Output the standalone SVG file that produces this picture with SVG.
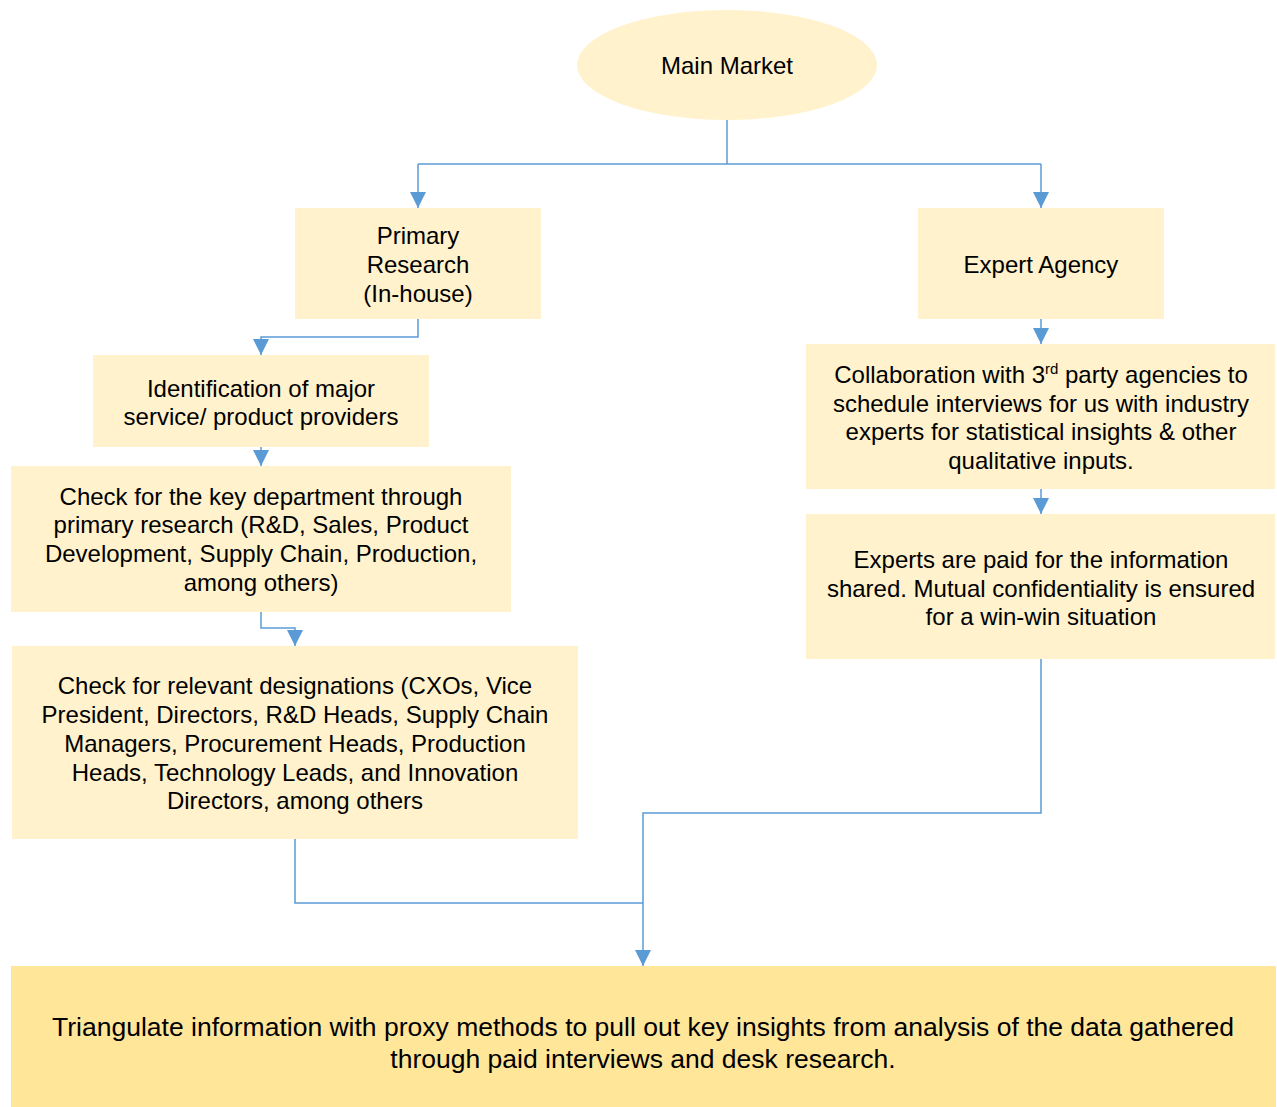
<svg xmlns="http://www.w3.org/2000/svg" width="1277" height="1107" viewBox="0 0 1277 1107">
<style>
.box{fill:#FFF2CC}
.final{fill:#FFE699}
text{font-family:"Liberation Sans",Arial,sans-serif;font-size:24px;fill:#000;text-anchor:middle}
.big{font-size:26.5px}
.conn{fill:none;stroke:#5B9BD5;stroke-width:1.5}
</style>
<defs>
<marker id="ah" markerUnits="userSpaceOnUse" markerWidth="16" markerHeight="17" viewBox="0 0 16 17" refX="16" refY="8" orient="auto">
<path d="M0,0 L16,8 L0,16 Z" fill="#5B9BD5"/>
</marker>
</defs>
<rect width="1277" height="1107" fill="#fff"/>
<g id="connectors">
<path class="conn" d="M727,120 V164"/>
<path class="conn" d="M418,164 H1041"/>
<path class="conn" d="M418,164 V208" marker-end="url(#ah)"/>
<path class="conn" d="M1041,164 V208" marker-end="url(#ah)"/>
<path class="conn" d="M418,319 V337 H261 V355" marker-end="url(#ah)"/>
<path class="conn" d="M261,447 V466" marker-end="url(#ah)"/>
<path class="conn" d="M261,612 V628 H295 V646" marker-end="url(#ah)"/>
<path class="conn" d="M1041,319 V344" marker-end="url(#ah)"/>
<path class="conn" d="M1041,489 V514" marker-end="url(#ah)"/>
<path class="conn" d="M1041,659 V813 H643 V966" marker-end="url(#ah)"/>
<path class="conn" d="M295,839 V903 H643"/>
</g>
<g id="main-market">
<ellipse class="box" cx="727" cy="65" rx="150" ry="55"/>
<text x="727" y="74">Main Market</text>
</g>
<g id="primary-research">
<rect class="box" x="295" y="208" width="246" height="111"/>
<text x="418" y="244">Primary</text>
<text x="418" y="273">Research</text>
<text x="418" y="302">(In-house)</text>
</g>
<g id="expert-agency">
<rect class="box" x="918" y="208" width="246" height="111"/>
<text x="1041" y="273">Expert Agency</text>
</g>
<g id="identification">
<rect class="box" x="93" y="355" width="336" height="92"/>
<text x="261" y="397">Identification of major</text>
<text x="261" y="425">service/ product providers</text>
</g>
<g id="key-department">
<rect class="box" x="11" y="466" width="500" height="146"/>
<text x="261" y="505">Check for the key department through</text>
<text x="261" y="533">primary research (R&amp;D, Sales, Product</text>
<text x="261" y="562">Development, Supply Chain, Production,</text>
<text x="261" y="591">among others)</text>
</g>
<g id="designations">
<rect class="box" x="12" y="646" width="566" height="193"/>
<text x="295" y="694">Check for relevant designations (CXOs, Vice</text>
<text x="295" y="723">President, Directors, R&amp;D Heads, Supply Chain</text>
<text x="295" y="752">Managers, Procurement Heads, Production</text>
<text x="295" y="781">Heads, Technology Leads, and Innovation</text>
<text x="295" y="809">Directors, among others</text>
</g>
<g id="collaboration">
<rect class="box" x="806" y="344" width="469" height="145"/>
<text x="1041" y="383">Collaboration with 3<tspan font-size="15" dy="-9">rd</tspan><tspan dy="9"> party agencies to</tspan></text>
<text x="1041" y="412">schedule interviews for us with industry</text>
<text x="1041" y="440">experts for statistical insights &amp; other</text>
<text x="1041" y="469">qualitative inputs.</text>
</g>
<g id="experts-paid">
<rect class="box" x="806" y="514" width="469" height="145"/>
<text x="1041" y="568">Experts are paid for the information</text>
<text x="1041" y="597">shared. Mutual confidentiality is ensured</text>
<text x="1041" y="625">for a win-win situation</text>
</g>
<g id="triangulate">
<rect class="final" x="11" y="966" width="1265" height="141"/>
<text class="big" x="643" y="1036">Triangulate information with proxy methods to pull out key insights from analysis of the data gathered</text>
<text class="big" x="643" y="1068">through paid interviews and desk research.</text>
</g>
</svg>
